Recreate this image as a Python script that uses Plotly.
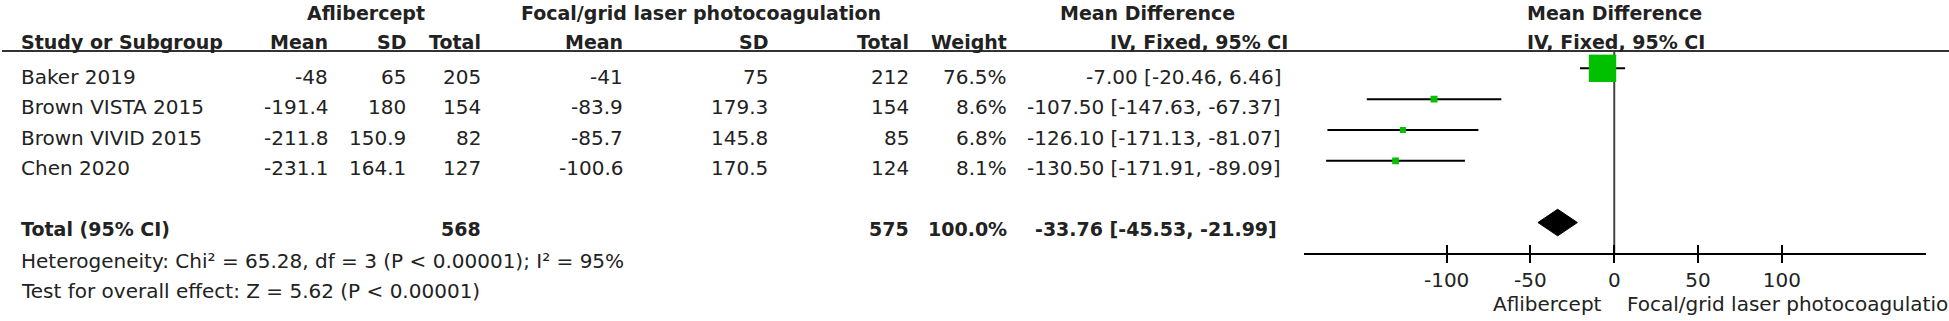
import plotly.graph_objects as go

# ---------------- data ----------------
studies = ["Baker 2019", "Brown VISTA 2015", "Brown VIVID 2015", "Chen 2020"]
afl_mean = [-48, -191.4, -211.8, -231.1]
afl_sd = [65, 180, 150.9, 164.1]
afl_total = [205, 154, 82, 127]
las_mean = [-41, -83.9, -85.7, -100.6]
las_sd = [75, 179.3, 145.8, 170.5]
las_total = [212, 154, 85, 124]
weights = [76.5, 8.6, 6.8, 8.1]
md = [-7.00, -107.50, -126.10, -130.50]
ci_low = [-20.46, -147.63, -171.13, -171.91]
ci_high = [6.46, -67.37, -81.07, -89.09]

total_afl = 568
total_las = 575
total_weight = 100.0
total_md = -33.76
total_low = -45.53
total_high = -21.99

heterogeneity = "Heterogeneity: Chi² = 65.28, df = 3 (P < 0.00001); I² = 95%"
overall = "Test for overall effect: Z = 5.62 (P < 0.00001)"

tick_vals = [-100, -50, 0, 50, 100]
tick_text = ["-100", "-50", "0", "50", "100"]
left_label = "Aflibercept"
right_label = "Focal/grid laser photocoagulation"

# ---------------- layout constants ----------------
W, H = 1949, 321
FONT = "DejaVu Sans"
TXT = "#222222"
GREEN = "#00C000"
ROW0, DROW = 68.3, 30.85          # mark rows (px)
TROW0, DTROW = 77.0, 30.4         # text rows (px)
AXIS_Y = 254
HEAD_LINE_Y = 51


def mark_y(i):
    return ROW0 + DROW * i


def text_y(i):
    return TROW0 + DTROW * i


anns = []


def txt(s, x, y, anchor="right", bold=False):
    anns.append(dict(
        text=s, x=x / W, y=1 - y / H, xref="paper", yref="paper",
        xanchor=anchor, yanchor="middle", showarrow=False,
        font=dict(family=FONT, size=19 if bold else 20, color=TXT,
                  weight="bold" if bold else "normal")))


# header rows
txt("Aflibercept", 366, 13, "center", True)
txt("Focal/grid laser photocoagulation", 701, 13, "center", True)
txt("Mean Difference", 1147, 13, "center", True)
txt("Mean Difference", 1614, 13, "center", True)

txt("Study or Subgroup", 19, 42, "left", True)
for s, x in [("Mean", 330), ("SD", 408), ("Total", 483), ("Mean", 625),
             ("SD", 770), ("Total", 911), ("Weight", 1009),
             ("IV, Fixed, 95% CI", 1290)]:
    txt(s, x, 42, "right", True)
txt("IV, Fixed, 95% CI", 1616, 42, "center", True)

# study rows
for i, s in enumerate(studies):
    y = text_y(i)
    txt(s, 19, y, "left")
    txt(f"{afl_mean[i]:g}", 330, y)
    txt(f"{afl_sd[i]:g}", 408, y)
    txt(f"{afl_total[i]}", 483, y)
    txt(f"{las_mean[i]:g}", 625, y)
    txt(f"{las_sd[i]:g}", 770, y)
    txt(f"{las_total[i]}", 911, y)
    txt(f"{weights[i]:.1f}%", 1009, y)
    txt(f"{md[i]:.2f} [{ci_low[i]:.2f}, {ci_high[i]:.2f}]", 1283, y)

# total row
ty = 229
txt("Total (95% CI)", 19, ty, "left", True)
txt(f"{total_afl}", 483, ty, "right", True)
txt(f"{total_las}", 911, ty, "right", True)
txt(f"{total_weight:.1f}%", 1009, ty, "right", True)
txt(f"{total_md:.2f} [{total_low:.2f}, {total_high:.2f}]", 1279, ty, "right", True)

txt(heterogeneity, 19, 260.5, "left")
txt(overall, 19, 291, "left")

# axis side labels
txt(left_label, 1604, 304, "right")
txt(right_label, 1625, 304, "left")

fig = go.Figure()

# zero line
fig.add_trace(go.Scatter(x=[0, 0], y=[HEAD_LINE_Y, AXIS_Y], mode="lines",
                         line=dict(color="#444444", width=2), hoverinfo="skip"))

# CI lines
cx, cy = [], []
for i in range(len(studies)):
    cx += [ci_low[i], ci_high[i], None]
    cy += [mark_y(i), mark_y(i), None]
fig.add_trace(go.Scatter(x=cx, y=cy, mode="lines",
                         line=dict(color="black", width=2), hoverinfo="skip"))

# squares (size scaled by weight)
sizes = [27.4 * (w / max(weights)) ** 0.63 for w in weights]
fig.add_trace(go.Scatter(x=md, y=[mark_y(i) for i in range(len(studies))],
                         mode="markers", opacity=1,
                         marker=dict(symbol="square", size=sizes, color=GREEN,
                                     opacity=1, line=dict(width=0)),
                         hoverinfo="skip"))

# diamond
dy = mark_y(len(studies) + 1)
fig.add_trace(go.Scatter(x=[total_low, total_md, total_high, total_md, total_low],
                         y=[dy, dy - 13.3, dy, dy + 13.3, dy],
                         mode="lines", fill="toself", fillcolor="black",
                         line=dict(color="black", width=1), hoverinfo="skip"))

# dummy trace for overlay axis (upper half of ticks)
fig.add_trace(go.Scatter(x=[0], y=[-50], xaxis="x2", yaxis="y", mode="markers",
                         marker=dict(opacity=0), hoverinfo="skip"))

dom = [1303.5 / W, 1925.5 / W]
xr = [-185.4, 185.7]
fig.update_layout(
    width=W, height=H,
    margin=dict(l=0, r=0, t=0, b=0),
    paper_bgcolor="white", plot_bgcolor="white",
    showlegend=False,
    annotations=anns,
    xaxis=dict(domain=dom, range=xr, anchor="free", position=1 - AXIS_Y / H,
               showline=True, linecolor="black", linewidth=2,
               ticks="outside", ticklen=8, tickwidth=2, tickcolor="black",
               tickvals=tick_vals, ticktext=tick_text,
               tickfont=dict(family=FONT, size=20, color=TXT),
               showgrid=False, zeroline=False, fixedrange=True),
    xaxis2=dict(domain=dom, range=xr, overlaying="x", anchor="free",
                position=1 - AXIS_Y / H, side="bottom",
                showline=False, ticks="inside", ticklen=9, tickwidth=2,
                tickcolor="black", tickvals=tick_vals, showticklabels=False,
                showgrid=False, zeroline=False, fixedrange=True),
    yaxis=dict(domain=[0, 1], range=[H, 0], visible=False, fixedrange=True,
               showgrid=False, zeroline=False),
    shapes=[dict(type="line", xref="paper", yref="paper",
                 x0=2 / W, x1=1, y0=1 - HEAD_LINE_Y / H, y1=1 - HEAD_LINE_Y / H,
                 line=dict(color="#333333", width=2))],
)

fig.write_html(
    "out.html",
    config={"displayModeBar": False},
    post_script="document.body.style.margin='0';document.body.style.overflow='hidden';",
)
